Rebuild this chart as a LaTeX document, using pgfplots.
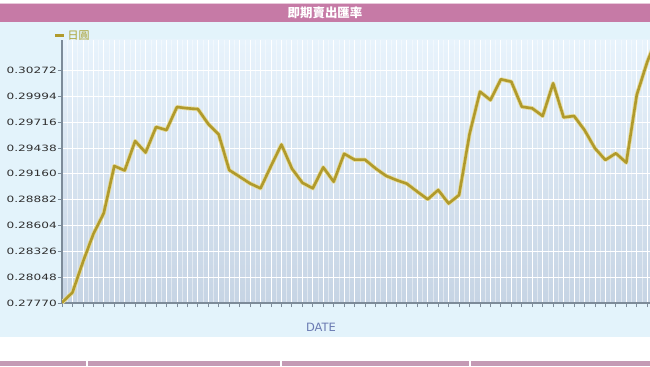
\documentclass[border=0pt]{standalone}
\usepackage{pgfplots}
\pgfplotsset{compat=1.18}
\usepackage{fontspec}
\setmainfont{DejaVu Sans}
\newfontfamily\cjk{Noto Sans CJK TC}
\usepackage{graphicx}
\definecolor{titlebar}{HTML}{C67AA6}
\definecolor{outerbg}{HTML}{E3F3FB}
\definecolor{plottop}{HTML}{E8F3FC}
\definecolor{plotbottom}{HTML}{C6D4E4}
\definecolor{axisgray}{HTML}{7D8B99}
\definecolor{labelgray}{HTML}{2F2F2F}
\definecolor{datecol}{HTML}{6A7AB2}
\definecolor{linegold}{HTML}{B09A2C}
\definecolor{halo}{HTML}{E6DC9E}
\definecolor{legendtext}{HTML}{A8A030}
\definecolor{tablebar}{HTML}{C49AB4}
\begin{document}
\begin{tikzpicture}[x=1bp,y=1bp]
\useasboundingbox (0,0) rectangle (650,366);
\fill[white] (0,0) rectangle (650,366);
\fill[outerbg] (0,29) rectangle (650,344);
\fill[titlebar] (0,344) rectangle (650,362);
\fill[titlebar!40] (0,362) rectangle (650,363);
\node[text=white, font=\cjk\bfseries\fontsize{12.5}{13}\selectfont] at (325,353) {即期賣出匯率};
\fill[tablebar] (0,0) rectangle (650,5);
\fill[white] (86,0) rectangle (88,5);
\fill[white] (280,0) rectangle (282,5);
\fill[white] (469,0) rectangle (471,5);
\node[text=datecol, font=\fontsize{11.5}{13}\selectfont] at (321,38.5) {DATE};
\begin{axis}[
  at={(62bp,63bp)}, anchor=south west,
  scale only axis, width=588bp, height=263bp,
  xmin=0, xmax=56.27, ymin=0.2777, ymax=0.3060,
  axis lines=left, axis line style={-, draw=axisgray, line width=1.5bp},
  axis background/.style={shade, top color=plottop, bottom color=plotbottom},
  tick align=outside, major tick length=4bp, minor tick length=0pt,
  tick style={draw=axisgray, line width=0.8bp},
  xtick={0,...,56}, xticklabels={}, minor x tick num=1,
  xmajorgrids, xminorgrids, ymajorgrids,
  major grid style={draw=white, line width=0.8bp},
  minor grid style={draw=white, opacity=0.45, line width=0.6bp},
  ytick={0.2777,0.28048,0.28326,0.28604,0.28882,0.2916,0.29438,0.29716,0.29994,0.30272},
  yticklabel style={text=labelgray, inner sep=0pt, xshift=-1bp, font=\fontsize{8.7}{10}\selectfont},
  yticklabel={\scalebox{1.4}[1]{\pgfmathprintnumber[fixed,precision=5,zerofill,assume math mode=true]{\tick}}},
  legend style={at={(0,1)}, anchor=south west, xshift=-8bp, yshift=-3bp, draw=none, fill=none,
    font=\cjk\fontsize{11}{12}\selectfont, text=legendtext, inner sep=0pt},
  legend image code/.code={\draw[#1, line width=2.5bp] (0bp,0bp) -- (9bp,0bp);},
]
\addplot[color=halo, line width=4.2bp, line join=round, forget plot] coordinates {
(0,0.27775)(1,0.27883)(2,0.28211)(3,0.28512)(4,0.28738)(5,0.29244)(6,0.29196)(7,0.29513)
(8,0.29389)(9,0.29664)(10,0.29631)(11,0.29879)(12,0.29865)(13,0.29857)(14,0.29696)(15,0.29583)
(16,0.29201)(17,0.29129)(18,0.29056)(19,0.29004)(20,0.29244)(21,0.29475)(22,0.29217)(23,0.29064)
(24,0.29004)(25,0.29230)(26,0.29075)(27,0.29376)(28,0.29312)(29,0.29312)(30,0.29219)(31,0.29139)
(32,0.29093)(33,0.29054)(34,0.28968)(35,0.28886)(36,0.28986)(37,0.28841)(38,0.28932)(39,0.29588)
(40,0.30044)(41,0.29954)(42,0.30177)(43,0.30151)(44,0.29882)(45,0.29865)(46,0.29782)(47,0.30134)
(48,0.29768)(49,0.29782)(50,0.29631)(51,0.29435)(52,0.29309)(53,0.29381)(54,0.29280)(55,0.30008)
(56,0.30363)(57,0.30644)};
\addplot[color=linegold, line width=2.6bp, line join=round] coordinates {
(0,0.27775)(1,0.27883)(2,0.28211)(3,0.28512)(4,0.28738)(5,0.29244)(6,0.29196)(7,0.29513)
(8,0.29389)(9,0.29664)(10,0.29631)(11,0.29879)(12,0.29865)(13,0.29857)(14,0.29696)(15,0.29583)
(16,0.29201)(17,0.29129)(18,0.29056)(19,0.29004)(20,0.29244)(21,0.29475)(22,0.29217)(23,0.29064)
(24,0.29004)(25,0.29230)(26,0.29075)(27,0.29376)(28,0.29312)(29,0.29312)(30,0.29219)(31,0.29139)
(32,0.29093)(33,0.29054)(34,0.28968)(35,0.28886)(36,0.28986)(37,0.28841)(38,0.28932)(39,0.29588)
(40,0.30044)(41,0.29954)(42,0.30177)(43,0.30151)(44,0.29882)(45,0.29865)(46,0.29782)(47,0.30134)
(48,0.29768)(49,0.29782)(50,0.29631)(51,0.29435)(52,0.29309)(53,0.29381)(54,0.29280)(55,0.30008)
(56,0.30363)(57,0.30644)};
\addlegendentry{日圓}
\end{axis}
\end{tikzpicture}
\end{document}
